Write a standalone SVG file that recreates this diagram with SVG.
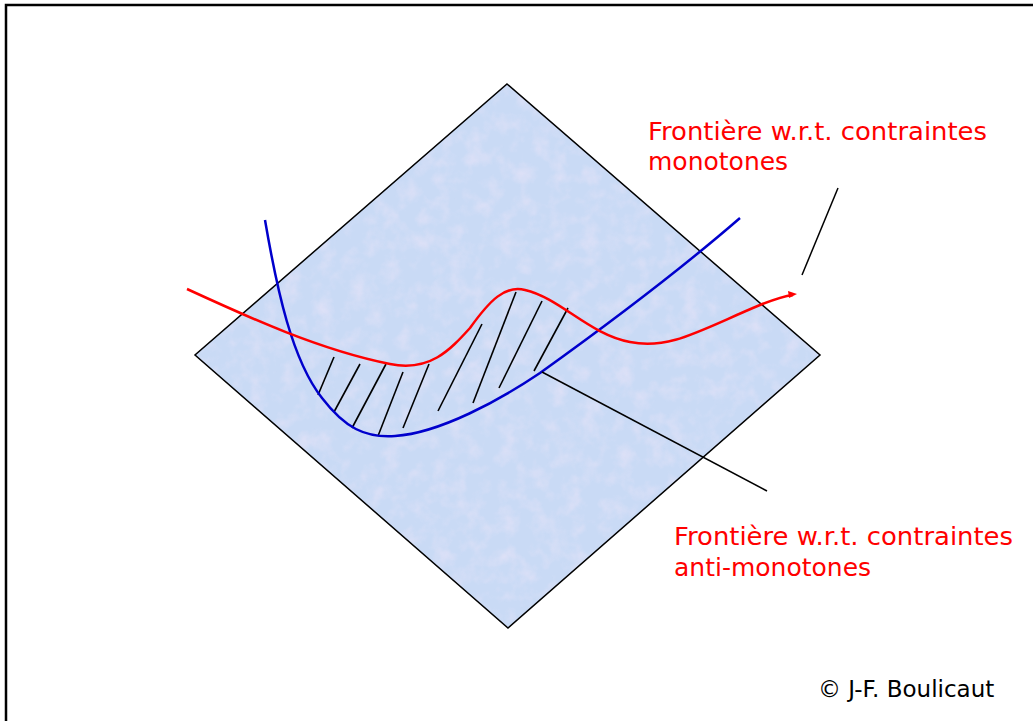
<svg xmlns="http://www.w3.org/2000/svg" width="1033" height="721" viewBox="0 0 1033 721">
<defs>
<style>
.lbl{font-family:"Comic Sans MS","DejaVu Sans",sans-serif;font-size:25px;fill:#ff0000}
.copy{font-family:Tahoma,"DejaVu Sans",sans-serif;font-size:23px;fill:#000}
.hatch{stroke:#000;stroke-width:1.6;fill:none}
.ptr{stroke:#000;stroke-width:1.5;fill:none}
</style>
<filter id="tex" x="0" y="0" width="100%" height="100%">
<feTurbulence type="fractalNoise" baseFrequency="0.06" numOctaves="3" seed="4" result="n"/>
<feColorMatrix in="n" type="matrix" values="0 0 0 0 0.88  0 0 0 0 0.80  0 0 0 0 0.95  1.4 0 0 0 -0.6" result="m"/>
<feComposite in="m" in2="SourceGraphic" operator="in"/>
</filter>
</defs>
<rect x="0" y="0" width="1033" height="721" fill="#fff"/>
<rect x="6" y="5" width="1040" height="730" fill="none" stroke="#000" stroke-width="2.5"/>
<g id="plane">
<polygon points="507,84 820,355 508,628 195,355" fill="#c9daf5"/>
<polygon points="507,84 820,355 508,628 195,355" fill="#c9daf5" filter="url(#tex)" opacity="0.7"/>
<polygon points="507,84 820,355 508,628 195,355" fill="none" stroke="#000" stroke-width="1.5"/>
</g>
<g id="hatching">
<line class="hatch" x1="318" y1="395" x2="334" y2="357"/>
<line class="hatch" x1="334" y1="412" x2="360" y2="364"/>
<line class="hatch" x1="352" y1="428" x2="386" y2="364"/>
<line class="hatch" x1="378" y1="436" x2="403" y2="372"/>
<line class="hatch" x1="403" y1="428" x2="429" y2="364"/>
<line class="hatch" x1="438" y1="411" x2="482" y2="324"/>
<line class="hatch" x1="473" y1="403" x2="516" y2="292"/>
<line class="hatch" x1="499" y1="388" x2="542" y2="301"/>
<line class="hatch" x1="534" y1="371" x2="568" y2="308"/>
</g>
<g id="anti-monotone-border">
<path d="M265,220 C277,290 292,360 322,398 C345,428 365,438 395,436 C440,433 500,400 540,373 C600,330 680,270 740,218" fill="none" stroke="#0000cc" stroke-width="2.5"/>
</g>
<g id="monotone-border">
<path d="M187,289 C250,318 320,350 390,364 C430,372 450,350 470,328 C490,300 505,285 525,290 C560,298 590,335 630,342 C670,350 700,330 760,305 C775,299 785,296 793,295" fill="none" stroke="#ff0000" stroke-width="2.5"/>
<polygon points="797,294 788,291 789,298" fill="#ff0000"/>
</g>
<g id="connectors">
<line class="ptr" x1="838" y1="188" x2="802" y2="275"/>
<line class="ptr" x1="542" y1="372" x2="767" y2="491"/>
</g>
<g id="label-monotone">
<text class="lbl" x="648" y="140" textLength="339" lengthAdjust="spacingAndGlyphs">Frontière w.r.t. contraintes</text>
<text class="lbl" x="648" y="170">monotones</text>
</g>
<g id="label-anti-monotone">
<text class="lbl" x="674" y="545" textLength="339" lengthAdjust="spacingAndGlyphs">Frontière w.r.t. contraintes</text>
<text class="lbl" x="674" y="576">anti-monotones</text>
</g>
<text class="copy" x="818" y="697">© J-F. Boulicaut</text>
</svg>
